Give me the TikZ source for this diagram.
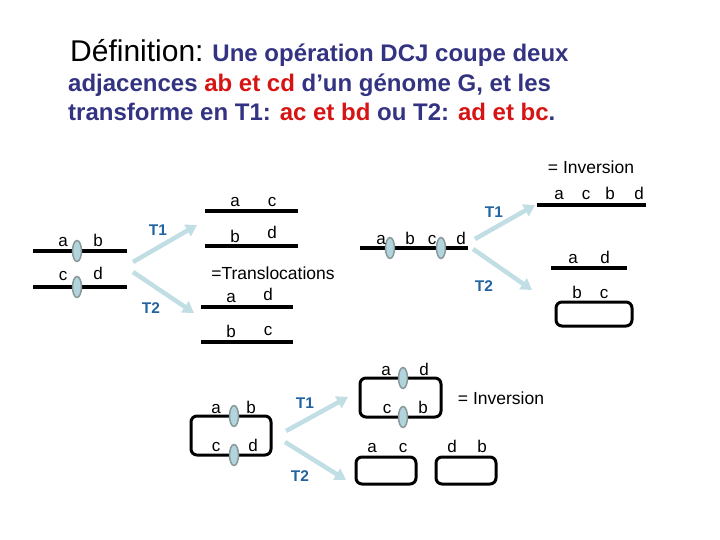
\documentclass[tikz,border=0pt]{standalone}
\usepackage{fontspec}
\setmainfont{Liberation Sans}
\usetikzlibrary{arrows.meta}
\usetikzlibrary{positioning}
\usetikzlibrary{shapes.geometric}
\definecolor{navy}{RGB}{51,51,130}
\definecolor{redtxt}{RGB}{215,20,20}
\definecolor{tblue}{RGB}{35,100,160}
\definecolor{arrowblue}{RGB}{192,222,228}
\definecolor{cutfill}{RGB}{178,212,220}
\definecolor{cutline}{RGB}{138,152,156}

\begin{document}
\begin{tikzpicture}[x=1pt,y=-1pt,
  lbl/.style={font=\fontsize{17}{17}\selectfont,inner sep=0pt,anchor=base},
  tlbl/.style={font=\bfseries\fontsize{15.5}{15.5}\selectfont,text=tblue,inner sep=0pt},
  note/.style={font=\fontsize{17.5}{17.5}\selectfont,inner sep=0pt},
  chrom/.style={line width=4pt},
  circ/.style={line width=3pt,rounded corners=6pt},
  cut/.style={ellipse,draw=cutline,fill=cutfill,line width=1.5pt,minimum width=9pt,minimum height=21pt,inner sep=0pt},
  op/.style={line width=4.5pt,draw=arrowblue,-{Triangle[length=11pt,width=13pt]}},
  ttl/.style={anchor=base west,inner sep=0pt,text=navy,font=\bfseries\fontsize{24}{24}\selectfont}]
  \useasboundingbox (0,0) rectangle (720,540);

  \node[ttl] (t1) at (70,62) {{\color{black}\mdseries\fontsize{30}{30}\selectfont Définition:} Une opération DCJ coupe deux};
  \node[ttl] (t2) at (68,92) {adjacences \textcolor{redtxt}{ab et cd} d’un génome G, et les};
  \node[ttl] (t3) at (68,121) {transforme en T1: \textcolor{redtxt}{ac et bd} ou T2: \textcolor{redtxt}{ad et bc}.};

  \coordinate (p1) at (33,251);  \coordinate (q1) at (127,251);
  \coordinate (p2) at (33,287);  \coordinate (q2) at (127,287);
  \draw[chrom] (p1) -- (q1);
  \draw[chrom] (p2) -- (q2);
  \node[cut] (k1) at (77,251) {};
  \node[cut] (k2) at (77,287) {};
  \node[lbl] (a1) at (63,246) {a};
  \node[lbl] (b1) at (98,246) {b};
  \node[lbl] (c1) at (63,280) {c};
  \node[lbl] (d1) at (98,279) {d};

  \coordinate (o1) at (133,262);  \coordinate (e1) at (197,225);
  \coordinate (o2) at (133,272);  \coordinate (e2) at (194,313);
  \draw[op] (o1) -- (e1);
  \draw[op] (o2) -- (e2);
  \node[tlbl] (T11) at (158,230) {T1};
  \node[tlbl] (T21) at (151,308) {T2};

  \coordinate (p3) at (205,211);  \coordinate (q3) at (298,211);
  \coordinate (p4) at (205,246);  \coordinate (q4) at (298,246);
  \coordinate (p5) at (201,307);  \coordinate (q5) at (293,307);
  \coordinate (p6) at (201,342);  \coordinate (q6) at (293,342);
  \draw[chrom] (p3) -- (q3);
  \draw[chrom] (p4) -- (q4);
  \draw[chrom] (p5) -- (q5);
  \draw[chrom] (p6) -- (q6);
  \node[lbl] (a3) at (235,207) {a};
  \node[lbl] (c3) at (272,207) {c};
  \node[lbl] (b4) at (235,242) {b};
  \node[lbl] (d4) at (272,239) {d};
  \node[note] (trl) at (273,273) {=Translocations};
  \node[lbl] (a5) at (231,302) {a};
  \node[lbl] (d5) at (268,300) {d};
  \node[lbl] (b6) at (231,337) {b};
  \node[lbl] (c6) at (268,335) {c};

  \coordinate (p7) at (360,248);  \coordinate (q7) at (468,248);
  \draw[chrom] (p7) -- (q7);
  \node[cut] (k3) at (390,248) {};
  \node[cut] (k4) at (441,248) {};
  \node[lbl] (a7) at (381,244) {a};
  \node[lbl] (b7) at (410,244) {b};
  \node[lbl] (c7) at (432,244) {c};
  \node[lbl] (d7) at (461,244) {d};

  \coordinate (o3) at (475,239);  \coordinate (e3) at (535,205);
  \coordinate (o4) at (473,249);  \coordinate (e4) at (532,290);
  \draw[op] (o3) -- (e3);
  \draw[op] (o4) -- (e4);
  \node[tlbl] (T12) at (494,212) {T1};
  \node[tlbl] (T22) at (484,286) {T2};

  \node[note] (inv1) at (591,167) {= Inversion};
  \coordinate (p8) at (537,205);  \coordinate (q8) at (646,205);
  \draw[chrom] (p8) -- (q8);
  \node[lbl] (a8) at (559,200) {a};
  \node[lbl] (c8) at (586,200) {c};
  \node[lbl] (b8) at (610,200) {b};
  \node[lbl] (d8) at (639,200) {d};
  \coordinate (p9) at (551,268);  \coordinate (q9) at (627,268);
  \draw[chrom] (p9) -- (q9);
  \node[lbl] (a9) at (573,263) {a};
  \node[lbl] (d9) at (605,263) {d};
  \coordinate (r1) at (556,302);  \coordinate (s1) at (632,326);
  \draw[circ] (r1) rectangle (s1);
  \node[lbl] (b10) at (577,298) {b};
  \node[lbl] (c10) at (604,298) {c};

  \coordinate (r2) at (191,416);  \coordinate (s2) at (271,455);
  \draw[circ] (r2) rectangle (s2);
  \node[cut] (k5) at (234,416) {};
  \node[cut] (k6) at (234,455) {};
  \node[lbl] (a11) at (216,413) {a};
  \node[lbl] (b11) at (251,413) {b};
  \node[lbl] (c11) at (216,451) {c};
  \node[lbl] (d11) at (253,451) {d};

  \coordinate (o5) at (286,431);  \coordinate (e5) at (348,397);
  \coordinate (o6) at (285,442);  \coordinate (e6) at (346,480);
  \draw[op] (o5) -- (e5);
  \draw[op] (o6) -- (e6);
  \node[tlbl] (T13) at (305,403) {T1};
  \node[tlbl] (T23) at (300,476) {T2};

  \coordinate (r3) at (360,378);  \coordinate (s3) at (441,417);
  \draw[circ] (r3) rectangle (s3);
  \node[cut] (k7) at (403,378) {};
  \node[cut] (k8) at (403,417) {};
  \node[lbl] (a12) at (386,375) {a};
  \node[lbl] (d12) at (424,375) {d};
  \node[lbl] (c12) at (387,413) {c};
  \node[lbl] (b12) at (423,413) {b};
  \node[note] (inv2) at (501,398) {= Inversion};

  \coordinate (r4) at (356,457);  \coordinate (s4) at (416,484);
  \coordinate (r5) at (436,457);  \coordinate (s5) at (496,484);
  \draw[circ] (r4) rectangle (s4);
  \draw[circ] (r5) rectangle (s5);
  \node[lbl] (a13) at (372,452) {a};
  \node[lbl] (c13) at (403,452) {c};
  \node[lbl] (d13) at (452,452) {d};
  \node[lbl] (b13) at (482,452) {b};
\end{tikzpicture}
\end{document}
